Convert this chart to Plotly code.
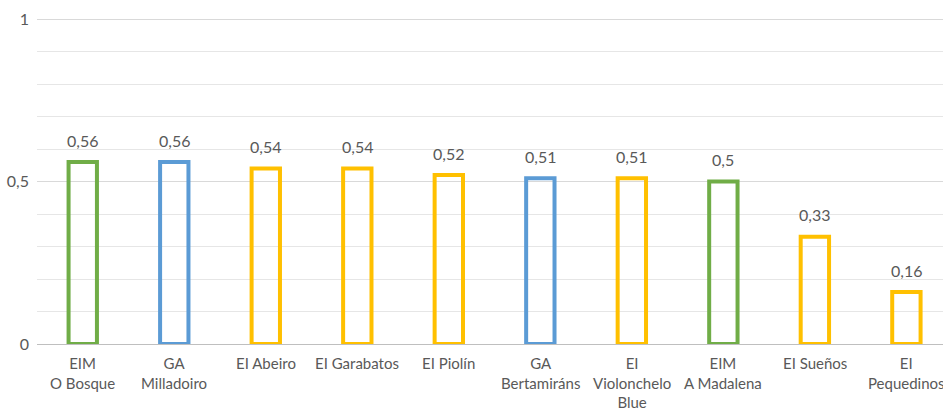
import plotly.graph_objects as go

categories = ["EIM<br>O Bosque", "GA<br>Milladoiro", "EI Abeiro", "EI Garabatos", "EI Piolín",
              "GA<br>Bertamiráns", "EI<br>Violonchelo<br>Blue", "EIM<br>A Madalena", "EI Sueños",
              "EI<br>Pequedinos"]
values = [0.56, 0.56, 0.54, 0.54, 0.52, 0.51, 0.51, 0.50, 0.33, 0.16]
groups = ["EIM", "GA", "EI", "EI", "EI", "GA", "EI", "EIM", "EI", "EI"]
group_colors = {"EIM": "#70AD47", "GA": "#5B9BD5", "EI": "#FFC000"}
tick_vals = [0, 0.5, 1]
tick_text = ["0", "0,5", "1"]

labels = [("%g" % v).replace(".", ",") for v in values]
colors = [group_colors[g] for g in groups]
xs = list(range(len(categories)))

fig = go.Figure(go.Bar(
    x=xs, y=values, width=0.31,
    marker=dict(color="rgba(255,255,255,0)", line=dict(color=colors, width=4)),
    hoverinfo="skip",
))
for x, v, t in zip(xs, values, labels):
    fig.add_annotation(x=x, y=v, text=t, showarrow=False, yanchor="middle", yshift=22,
                       font=dict(family="Lato", size=16, color="#595959"))
for x, c in zip(xs, categories):
    fig.add_annotation(x=x, y=0, text=c, showarrow=False, yanchor="top", yshift=-8,
                       align="center", font=dict(family="Lato", size=15, color="#595959"))
fig.update_layout(
    width=943, height=411, margin=dict(l=37, r=0, t=16, b=67),
    paper_bgcolor="white", plot_bgcolor="white", showlegend=False,
    font=dict(family="Lato", color="#595959", size=15),
)
fig.update_xaxes(tickmode="array", tickvals=xs, showticklabels=False,
                 range=[-0.5, 9.4], showgrid=False, showline=True, linecolor="#bfbfbf", linewidth=1,
                 ticks="")
fig.update_yaxes(range=[0, 1.00923], tickmode="array", tickvals=tick_vals, ticktext=tick_text,
                 showgrid=True, gridcolor="#d9d9d9", gridwidth=1, zeroline=False,
                 minor=dict(dtick=0.1, tick0=0, showgrid=True, gridcolor="#e6e6e6", gridwidth=1),
                 ticklabelstandoff=7, tickfont=dict(family="Lato", size=16, color="#595959"), ticks="")
fig.write_html("out.html")
